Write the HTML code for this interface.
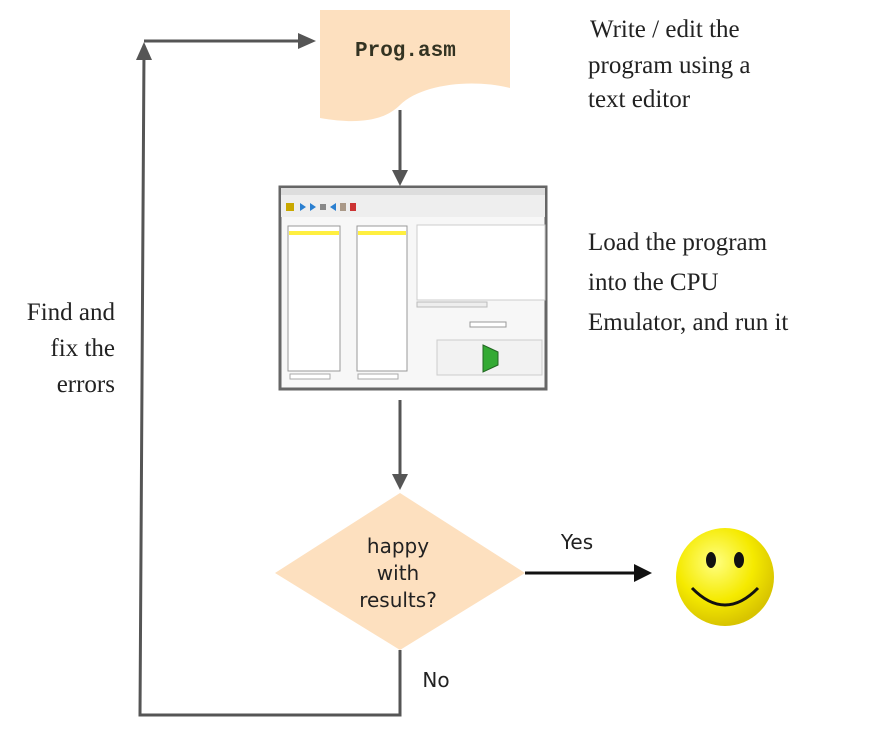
<!DOCTYPE html>
<html><head><meta charset="utf-8"><style>
html,body{margin:0;padding:0;background:#fff;}
svg{display:block;}
.t{font-family:"Liberation Serif",serif;font-size:25px;fill:#222;}
.c{font-family:"Comic Sans MS","DejaVu Sans",sans-serif;font-size:20px;fill:#222;}
</style></head><body>
<svg width="895" height="753" viewBox="0 0 895 753" xmlns="http://www.w3.org/2000/svg">
<defs>
<radialGradient id="sg" cx="40%" cy="35%" r="65%">
<stop offset="0" stop-color="#ffff80"/><stop offset="0.6" stop-color="#f5ea00"/><stop offset="1" stop-color="#d8c400"/>
</radialGradient>
</defs>
<polyline points="400,650 400,715 140,715 144,50" fill="none" stroke="#555" stroke-width="3"/>
<polygon points="144,42 136,60 152,60" fill="#555"/>
<line x1="144" y1="41" x2="300" y2="41" stroke="#555" stroke-width="3"/>
<polygon points="316,41 298,33 298,49" fill="#555"/>
<path d="M320,10 L510,10 L510,88 C470,78 420,85 400,105 C385,120 360,125 320,118 Z" fill="#fde0bf"/>
<text x="355" y="56" font-family="'Liberation Mono',monospace" font-size="21" font-weight="bold" fill="#332">Prog.asm</text>
<line x1="400" y1="110" x2="400" y2="172" stroke="#555" stroke-width="3"/>
<polygon points="400,186 392,170 408,170" fill="#555"/>
<line x1="400" y1="400" x2="400" y2="476" stroke="#555" stroke-width="3"/>
<polygon points="400,490 392,474 408,474" fill="#555"/>
<rect x="280" y="187" width="266" height="202" fill="#f7f7f7" stroke="#666" stroke-width="3"/>
<rect x="281" y="188" width="264" height="7" fill="#ddd"/>
<rect x="281" y="195" width="264" height="22" fill="#eee"/>
<rect x="286" y="203" width="8" height="8" fill="#c9a800"/>
<polygon points="300,203 306,207 300,211" fill="#2a7fd0"/>
<polygon points="310,203 316,207 310,211" fill="#2a7fd0"/>
<rect x="320" y="204" width="6" height="6" fill="#888"/>
<polygon points="336,203 330,207 336,211" fill="#2a7fd0"/>
<rect x="340" y="203" width="6" height="8" fill="#a98"/>
<rect x="350" y="203" width="6" height="8" fill="#c33"/>
<rect x="288" y="226" width="52" height="145" fill="#fff" stroke="#999"/>
<rect x="289" y="231" width="50" height="4" fill="#ffef40"/>
<rect x="357" y="226" width="50" height="145" fill="#fff" stroke="#999"/>
<rect x="358" y="231" width="48" height="4" fill="#ffef40"/>
<rect x="417" y="225" width="128" height="75" fill="#fff" stroke="#ccc"/>
<rect x="417" y="302" width="70" height="5" fill="#eee" stroke="#bbb"/>
<rect x="470" y="322" width="36" height="5" fill="#fff" stroke="#999"/>
<rect x="437" y="340" width="105" height="35" fill="#f2f2f2" stroke="#ccc"/>
<polygon points="483,345 498,352 498,365 483,372" fill="#3a3" stroke="#262"/>
<rect x="290" y="374" width="40" height="5" fill="#fff" stroke="#aaa"/>
<rect x="358" y="374" width="40" height="5" fill="#fff" stroke="#aaa"/>
<polygon points="400,493 525,573 400,650 275,573" fill="#fde0bf"/>
<text class="c" x="398" y="553" text-anchor="middle">happy</text>
<text class="c" x="398" y="580" text-anchor="middle">with</text>
<text class="c" x="398" y="607" text-anchor="middle">results?</text>
<line x1="525" y1="573" x2="636" y2="573" stroke="#111" stroke-width="3"/>
<polygon points="652,573 634,564 634,582" fill="#111"/>
<text class="c" x="577" y="549" text-anchor="middle">Yes</text>
<text class="c" x="436" y="687" text-anchor="middle">No</text>
<circle cx="725" cy="577" r="49" fill="url(#sg)"/>
<ellipse cx="711" cy="560" rx="5" ry="8" fill="#111"/>
<ellipse cx="739" cy="560" rx="5" ry="8" fill="#111"/>
<path d="M692,588 Q725,622 758,588" fill="none" stroke="#111" stroke-width="3"/>
<text class="t" x="115" y="320" text-anchor="end">Find and</text>
<text class="t" x="115" y="356" text-anchor="end">fix the</text>
<text class="t" x="115" y="392" text-anchor="end">errors</text>
<text class="t" x="590" y="37">Write / edit the</text>
<text class="t" x="588" y="73">program using a</text>
<text class="t" x="588" y="107">text editor</text>
<text class="t" x="588" y="250">Load the program</text>
<text class="t" x="588" y="290">into the CPU</text>
<text class="t" x="588" y="330">Emulator, and run it</text>
</svg>
</body></html>
